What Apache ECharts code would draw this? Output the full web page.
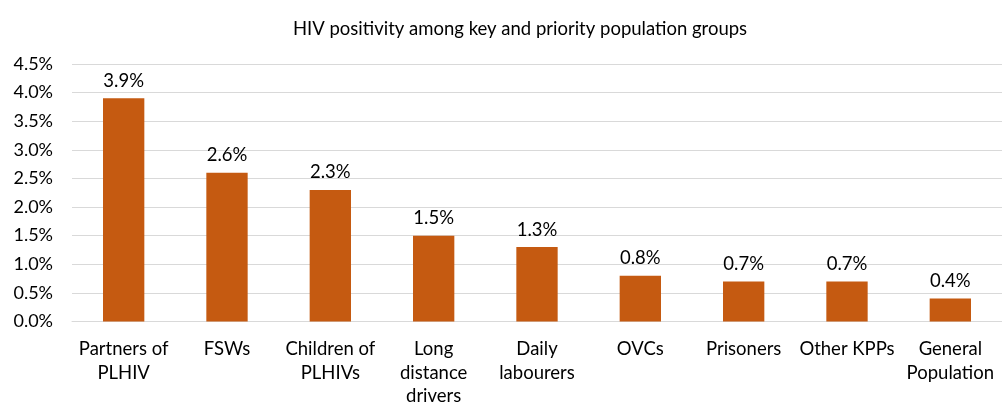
<!DOCTYPE html>
<html>
<head>
<meta charset="utf-8">
<script src="https://cdn.jsdelivr.net/npm/echarts@6/dist/echarts.min.js"></script>
<style>
  html, body { margin: 0; padding: 0; background: #fff; }
  #main { width: 1002px; height: 408px; }
</style>
</head>
<body>
<div id="main"></div>
<script>
// categories and values (percent)
const categories = ['Partners of\nPLHIV', 'FSWs', 'Children of\nPLHIVs', 'Long\ndistance\ndrivers',
  'Daily\nlabourers', 'OVCs', 'Prisoners', 'Other KPPs', 'General\nPopulation'];
const positivity = [3.9, 2.6, 2.3, 1.5, 1.3, 0.8, 0.7, 0.7, 0.4];

const font = 'Lato, "Open Sans", sans-serif';
const chart = echarts.init(document.getElementById('main'));
chart.setOption({
  animation: false,
  title: {
    text: 'HIV positivity among key and priority population groups',
    left: 515, top: 15, textAlign: 'center',
    textStyle: { fontFamily: font, fontWeight: 'normal', fontSize: 18.5, color: '#000' }
  },
  grid: { left: 72, top: 64, width: 934, bottom: 85, containLabel: false },
  xAxis: {
    type: 'category',
    data: categories,
    axisLine: { lineStyle: { color: '#d9d9d9' } },
    axisTick: { show: false },
    axisLabel: {
      interval: 0, margin: 16, lineHeight: 23.5,
      fontFamily: font, fontSize: 18.5, color: '#000'
    }
  },
  yAxis: {
    type: 'value',
    min: 0, max: 4.5, interval: 0.5,
    axisLine: { show: false },
    axisTick: { show: false },
    splitLine: { lineStyle: { color: '#d9d9d9' } },
    axisLabel: {
      margin: 19, fontFamily: font, fontSize: 18, color: '#000',
      formatter: v => v.toFixed(1) + '%'
    }
  },
  series: [{
    type: 'bar',
    data: positivity,
    barWidth: '40%',
    itemStyle: { color: '#C55A11' },
    label: {
      show: true, position: 'top', distance: 8,
      fontFamily: font, fontSize: 18.5, color: '#000',
      formatter: p => p.value.toFixed(1) + '%'
    }
  }]
});
</script>
</body>
</html>
